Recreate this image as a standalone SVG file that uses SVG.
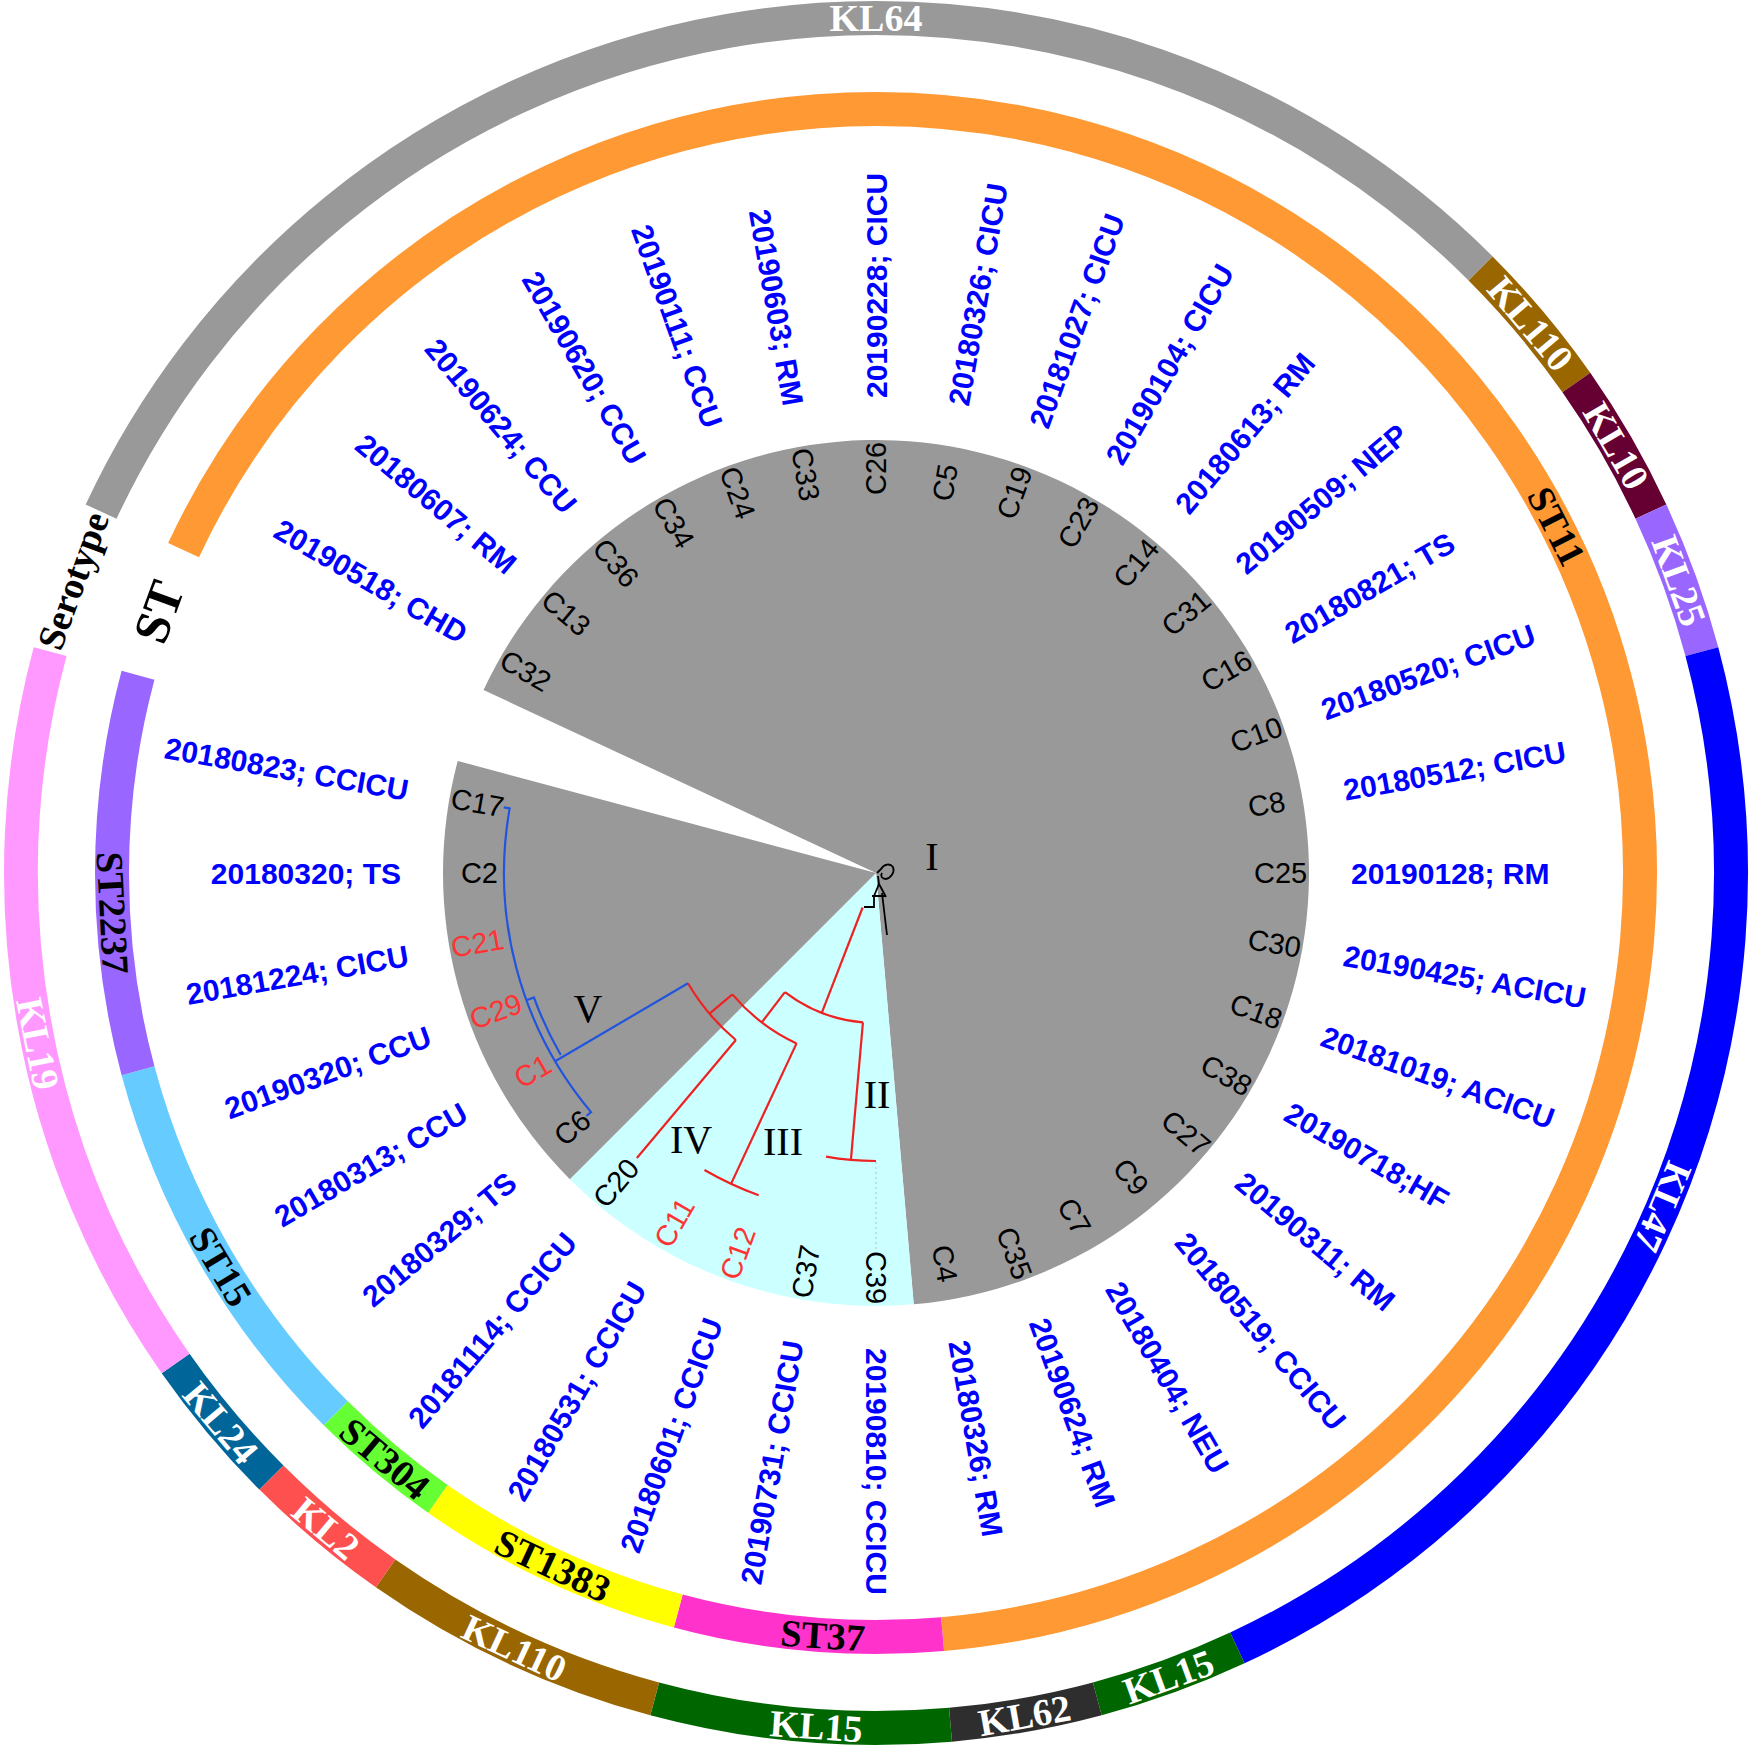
<svg xmlns="http://www.w3.org/2000/svg" width="1750" height="1748" viewBox="0 0 1750 1748">
<style>
.leaf{font-family:"Liberation Sans",Arial,sans-serif;font-size:29px;fill:#000}
.leaf.red{fill:#ff3333}
.date{font-family:"Liberation Sans",Arial,sans-serif;font-size:30px;font-weight:bold;fill:#0000ff}
.ring{fill:none;stroke-width:34}
.rl{font-family:"Liberation Serif","Times New Roman",serif;font-size:38px;font-weight:bold;text-anchor:middle}
.w{fill:#fff}
.k{fill:#000}
.clade{font-family:"Liberation Serif","Times New Roman",serif;font-size:40px;fill:#000;text-anchor:middle}
.br{fill:none;stroke-width:2.2}
.red-br{stroke:#ee2222}
.blue-br{stroke:#2255dd}
.blk-br{stroke:#000;stroke-width:1.8}
.end{text-anchor:end}
</style>
<rect width="1750" height="1748" fill="#fff"/>

<g id="sectors">
  <path id="sector-I" d="M876,873 L483.57,690 A433,433 0 1 1 913.74,1304.35 Z" fill="#999999"/>
  <path id="sector-II-IV" d="M876,873 L913.74,1304.35 A433,433 0 0 1 569.82,1179.18 Z" fill="#ccffff"/>
  <path id="sector-V" d="M876,873 L569.82,1179.18 A433,433 0 0 1 457.75,760.93 Z" fill="#999999"/>
</g>

<g id="serotype-ring">
  <g id="sero-KL64"><path class="ring" stroke="#999999" d="M101.10,511.66 A855,855 0 0 1 1480.58,268.42"/><text class="rl w" x="876" y="18" dy=".35em">KL64</text></g>
  <g id="sero-KL110a"><path class="ring" stroke="#996600" d="M1480.58,268.42 A855,855 0 0 1 1576.37,382.59"/><text class="rl w" transform="rotate(50 1530.96 323.41)" x="1530.96" y="323.41" dy=".35em">KL110</text></g>
  <g id="sero-KL10"><path class="ring" stroke="#660033" d="M1576.37,382.59 A855,855 0 0 1 1650.90,511.66"/><text class="rl w" transform="rotate(60 1616.46 445.5)" x="1616.46" y="445.5" dy=".35em">KL10</text></g>
  <g id="sero-KL25"><path class="ring" stroke="#9966ff" d="M1650.90,511.66 A855,855 0 0 1 1701.87,651.71"/><text class="rl w" transform="rotate(70 1679.43 580.57)" x="1679.43" y="580.57" dy=".35em">KL25</text></g>
  <g id="sero-KL47"><path class="ring" stroke="#0000ff" d="M1701.87,651.71 A855,855 0 0 1 1237.34,1647.90"/><text class="rl w" transform="rotate(113 1663.03 1207.07)" x="1663.03" y="1207.07" dy=".35em">KL47</text></g>
  <g id="sero-KL15a"><path class="ring" stroke="#006600" d="M1237.34,1647.90 A855,855 0 0 1 1097.29,1698.87"/><text class="rl w" transform="rotate(-20 1168.43 1676.43)" x="1168.43" y="1676.43" dy=".35em">KL15</text></g>
  <g id="sero-KL62"><path class="ring" stroke="#2e2e2e" d="M1097.29,1698.87 A855,855 0 0 1 950.52,1724.74"/><text class="rl w" transform="rotate(-10 1024.47 1715.01)" x="1024.47" y="1715.01" dy=".35em">KL62</text></g>
  <g id="sero-KL15b"><path class="ring" stroke="#006600" d="M950.52,1724.74 A855,855 0 0 1 654.71,1698.87"/><text class="rl w" transform="rotate(4 816.4 1725.9)" x="816.4" y="1725.9" dy=".35em">KL15</text></g>
  <g id="sero-KL110b"><path class="ring" stroke="#996600" d="M654.71,1698.87 A855,855 0 0 1 385.59,1573.37"/><text class="rl w" transform="rotate(25 514.66 1647.90)" x="514.66" y="1647.90" dy=".35em">KL110</text></g>
  <g id="sero-KL2"><path class="ring" stroke="#ff5050" d="M385.59,1573.37 A855,855 0 0 1 271.42,1477.58"/><text class="rl w" transform="rotate(40 326.41 1527.96)" x="326.41" y="1527.96" dy=".35em">KL2</text></g>
  <g id="sero-KL24"><path class="ring" stroke="#006699" d="M271.42,1477.58 A855,855 0 0 1 175.63,1363.41"/><text class="rl w" transform="rotate(50 221.04 1422.59)" x="221.04" y="1422.59" dy=".35em">KL24</text></g>
  <g id="sero-KL19"><path class="ring" stroke="#ff99ff" d="M175.63,1363.41 A855,855 0 0 1 50.13,651.71"/><text class="rl w" transform="rotate(78.5 38.2 1043.5)" x="38.2" y="1043.5" dy=".35em">KL19</text></g>
  <g id="sero-title"><text class="rl k" transform="rotate(-70 72.57 580.57)" x="72.57" y="580.57" dy=".35em">Serotype</text></g>
</g>

<g id="st-ring">
  <g id="st-ST11"><path class="ring" stroke="#ff9933" d="M183.58,550.12 A764,764 0 1 1 942.59,1634.09"/><text class="rl k" transform="rotate(63 1556.73 526.15)" x="1556.73" y="526.15" dy=".35em">ST11</text></g>
  <g id="st-ST37"><path class="ring" stroke="#ff33cc" d="M942.59,1634.09 A764,764 0 0 1 678.26,1610.97"/><text class="rl k" transform="rotate(4 822.70 1635.14)" x="822.70" y="1635.14" dy=".35em">ST37</text></g>
  <g id="st-ST1383"><path class="ring" stroke="#ffff00" d="M678.26,1610.97 A764,764 0 0 1 437.79,1498.83"/><text class="rl k" transform="rotate(25 553.12 1565.42)" x="553.12" y="1565.42" dy=".35em">ST1383</text></g>
  <g id="st-ST304"><path class="ring" stroke="#66ff33" d="M437.79,1498.83 A764,764 0 0 1 335.77,1413.23"/><text class="rl k" transform="rotate(40 384.91 1458.25)" x="384.91" y="1458.25" dy=".35em">ST304</text></g>
  <g id="st-ST15"><path class="ring" stroke="#66ccff" d="M335.77,1413.23 A764,764 0 0 1 138.03,1070.74"/><text class="rl k" transform="rotate(59 221.12 1266.49)" x="221.12" y="1266.49" dy=".35em">ST15</text></g>
  <g id="st-ST2237"><path class="ring" stroke="#9966ff" d="M138.03,1070.74 A764,764 0 0 1 138.03,675.26"/><text class="rl k" transform="rotate(87 113.05 912.99)" x="113.05" y="912.99" dy=".35em">ST2237</text></g>
  <g id="st-title"><text class="rl k" style="font-size:50px" transform="rotate(-70 158.08 611.70)" x="158.08" y="611.70" dy=".35em">ST</text></g>
</g>

<g id="connectors">
  <path class="br blk-br" d="M877,873 L882,868 M881,869 c3,-5 9,-6 12,-2 c2,5 -2,11 -7,12 c-4,0 -6,-3 -4,-6 M878,876 L879,884 L874,896 M879,884 L886,897 M872,896 L886,896 M864,907 L874,907 L874,896 M882,893 L887,935"/>
  <path class="br red-br" d="M862.62,907.50 L821.76,1012.85"/>
  <path class="br red-br" d="M862.93,1022.43 A150,150 0 0 1 784.89,992.16"/>
  <path class="br red-br" d="M862.93,1022.43 L850.90,1159.90"/>
  <path class="br red-br" d="M876,1161 A288,288 0 0 1 825.99,1156.63"/>
  <path class="br red-br" d="M784.89,992.16 L761.81,1022.35"/>
  <path class="br red-br" d="M796.55,1043.39 A188,188 0 0 1 732.41,994.35"/>
  <path class="br red-br" d="M796.55,1043.39 L731.04,1183.86"/>
  <path class="br red-br" d="M758.69,1195.31 A343,343 0 0 1 704.5,1170.05"/>
  <path class="br red-br" d="M732.41,994.35 L709.49,1013.71"/>
  <path class="br red-br" d="M735.87,1040.0 A218,218 0 0 1 687.97,983.31"/>
  <path class="br red-br" d="M735.87,1040.0 L636.88,1157.97"/>
  <path class="br blue-br" d="M687.97,983.31 L555.15,1061.24"/>
  <path class="br blue-br" d="M586.44,1115.97 L591.03,1112.12 A372,372 0 0 1 509.65,808.40 L503.74,807.36"/>
  <path class="br blue-br" d="M526.43,1000.23 L533.95,997.50 A364,364 0 0 0 560.77,1055"/>
  <path fill="none" stroke="#9cc" stroke-width="1" stroke-dasharray="2 3" d="M876,1162 L876,1250"/>
</g>

<g id="clade-labels">
  <text class="clade" x="932" y="870">I</text>
  <text class="clade" x="877" y="1108">II</text>
  <text class="clade" x="783" y="1155">III</text>
  <text class="clade" x="691" y="1153">IV</text>
  <text class="clade" x="588" y="1022">V</text>
</g>

<g id="leaves">
  <g id="leaf-C25"><text class="leaf" transform="rotate(0 876 873)" x="1254" y="873" dy=".35em">C25</text><text class="date" transform="rotate(0 876 873)" x="1351" y="873" dy=".35em">20190128; RM</text></g>
  <g id="leaf-C30"><text class="leaf" transform="rotate(10 876 873)" x="1254" y="873" dy=".35em">C30</text><text class="date" transform="rotate(10 876 873)" x="1351" y="873" dy=".35em">20190425; ACICU</text></g>
  <g id="leaf-C18"><text class="leaf" transform="rotate(20 876 873)" x="1254" y="873" dy=".35em">C18</text><text class="date" transform="rotate(20 876 873)" x="1351" y="873" dy=".35em">20181019; ACICU</text></g>
  <g id="leaf-C38"><text class="leaf" transform="rotate(30 876 873)" x="1254" y="873" dy=".35em">C38</text><text class="date" transform="rotate(30 876 873)" x="1351" y="873" dy=".35em">20190718;HF</text></g>
  <g id="leaf-C27"><text class="leaf" transform="rotate(40 876 873)" x="1254" y="873" dy=".35em">C27</text><text class="date" transform="rotate(40 876 873)" x="1351" y="873" dy=".35em">20190311; RM</text></g>
  <g id="leaf-C9"><text class="leaf" transform="rotate(50 876 873)" x="1254" y="873" dy=".35em">C9</text><text class="date" transform="rotate(50 876 873)" x="1351" y="873" dy=".35em">20180519; CCICU</text></g>
  <g id="leaf-C7"><text class="leaf" transform="rotate(60 876 873)" x="1254" y="873" dy=".35em">C7</text><text class="date" transform="rotate(60 876 873)" x="1351" y="873" dy=".35em">20180404; NEU</text></g>
  <g id="leaf-C35"><text class="leaf" transform="rotate(70 876 873)" x="1254" y="873" dy=".35em">C35</text><text class="date" transform="rotate(70 876 873)" x="1351" y="873" dy=".35em">20190624; RM</text></g>
  <g id="leaf-C4"><text class="leaf" transform="rotate(80 876 873)" x="1254" y="873" dy=".35em">C4</text><text class="date" transform="rotate(80 876 873)" x="1351" y="873" dy=".35em">20180326; RM</text></g>
  <g id="leaf-C39"><text class="leaf" transform="rotate(90 876 873)" x="1254" y="873" dy=".35em">C39</text><text class="date" transform="rotate(90 876 873)" x="1351" y="873" dy=".35em">20190810; CCICU</text></g>
  <g id="leaf-C37"><text class="leaf end" transform="rotate(-80 876 873)" x="498" y="873" dy=".35em">C37</text><text class="date end" transform="rotate(-80 876 873)" x="401" y="873" dy=".35em">20190731; CCICU</text></g>
  <g id="leaf-C12"><text class="leaf red end" transform="rotate(-70 876 873)" x="498" y="873" dy=".35em">C12</text><text class="date end" transform="rotate(-70 876 873)" x="401" y="873" dy=".35em">20180601; CCICU</text></g>
  <g id="leaf-C11"><text class="leaf red end" transform="rotate(-60 876 873)" x="498" y="873" dy=".35em">C11</text><text class="date end" transform="rotate(-60 876 873)" x="401" y="873" dy=".35em">20180531; CCICU</text></g>
  <g id="leaf-C20"><text class="leaf end" transform="rotate(-50 876 873)" x="498" y="873" dy=".35em">C20</text><text class="date end" transform="rotate(-50 876 873)" x="401" y="873" dy=".35em">20181114; CCICU</text></g>
  <g id="leaf-C6"><text class="leaf end" transform="rotate(-40 876 873)" x="498" y="873" dy=".35em">C6</text><text class="date end" transform="rotate(-40 876 873)" x="401" y="873" dy=".35em">20180329; TS</text></g>
  <g id="leaf-C1"><text class="leaf red end" transform="rotate(-30 876 873)" x="498" y="873" dy=".35em">C1</text><text class="date end" transform="rotate(-30 876 873)" x="401" y="873" dy=".35em">20180313; CCU</text></g>
  <g id="leaf-C29"><text class="leaf red end" transform="rotate(-20 876 873)" x="498" y="873" dy=".35em">C29</text><text class="date end" transform="rotate(-20 876 873)" x="401" y="873" dy=".35em">20190320; CCU</text></g>
  <g id="leaf-C21"><text class="leaf red end" transform="rotate(-10 876 873)" x="498" y="873" dy=".35em">C21</text><text class="date end" transform="rotate(-10 876 873)" x="401" y="873" dy=".35em">20181224; CICU</text></g>
  <g id="leaf-C2"><text class="leaf end" transform="rotate(0 876 873)" x="498" y="873" dy=".35em">C2</text><text class="date end" transform="rotate(0 876 873)" x="401" y="873" dy=".35em">20180320; TS</text></g>
  <g id="leaf-C17"><text class="leaf end" transform="rotate(10 876 873)" x="498" y="873" dy=".35em">C17</text><text class="date end" transform="rotate(10 876 873)" x="401" y="873" dy=".35em">20180823; CCICU</text></g>
  <g id="leaf-C32"><text class="leaf end" transform="rotate(30 876 873)" x="498" y="873" dy=".35em">C32</text><text class="date end" transform="rotate(30 876 873)" x="401" y="873" dy=".35em">20190518; CHD</text></g>
  <g id="leaf-C13"><text class="leaf end" transform="rotate(40 876 873)" x="498" y="873" dy=".35em">C13</text><text class="date end" transform="rotate(40 876 873)" x="401" y="873" dy=".35em">20180607; RM</text></g>
  <g id="leaf-C36"><text class="leaf end" transform="rotate(50 876 873)" x="498" y="873" dy=".35em">C36</text><text class="date end" transform="rotate(50 876 873)" x="401" y="873" dy=".35em">20190624; CCU</text></g>
  <g id="leaf-C34"><text class="leaf end" transform="rotate(60 876 873)" x="498" y="873" dy=".35em">C34</text><text class="date end" transform="rotate(60 876 873)" x="401" y="873" dy=".35em">20190620; CCU</text></g>
  <g id="leaf-C24"><text class="leaf end" transform="rotate(70 876 873)" x="498" y="873" dy=".35em">C24</text><text class="date end" transform="rotate(70 876 873)" x="401" y="873" dy=".35em">20190111; CCU</text></g>
  <g id="leaf-C33"><text class="leaf end" transform="rotate(80 876 873)" x="498" y="873" dy=".35em">C33</text><text class="date end" transform="rotate(80 876 873)" x="401" y="873" dy=".35em">20190603; RM</text></g>
  <g id="leaf-C26"><text class="leaf" transform="rotate(-90 876 873)" x="1254" y="873" dy=".35em">C26</text><text class="date" transform="rotate(-90 876 873)" x="1351" y="873" dy=".35em">20190228; CICU</text></g>
  <g id="leaf-C5"><text class="leaf" transform="rotate(-80 876 873)" x="1254" y="873" dy=".35em">C5</text><text class="date" transform="rotate(-80 876 873)" x="1351" y="873" dy=".35em">20180326; CICU</text></g>
  <g id="leaf-C19"><text class="leaf" transform="rotate(-70 876 873)" x="1254" y="873" dy=".35em">C19</text><text class="date" transform="rotate(-70 876 873)" x="1351" y="873" dy=".35em">20181027; CICU</text></g>
  <g id="leaf-C23"><text class="leaf" transform="rotate(-60 876 873)" x="1254" y="873" dy=".35em">C23</text><text class="date" transform="rotate(-60 876 873)" x="1351" y="873" dy=".35em">20190104; CICU</text></g>
  <g id="leaf-C14"><text class="leaf" transform="rotate(-50 876 873)" x="1254" y="873" dy=".35em">C14</text><text class="date" transform="rotate(-50 876 873)" x="1351" y="873" dy=".35em">20180613; RM</text></g>
  <g id="leaf-C31"><text class="leaf" transform="rotate(-40 876 873)" x="1254" y="873" dy=".35em">C31</text><text class="date" transform="rotate(-40 876 873)" x="1351" y="873" dy=".35em">20190509; NEP</text></g>
  <g id="leaf-C16"><text class="leaf" transform="rotate(-30 876 873)" x="1254" y="873" dy=".35em">C16</text><text class="date" transform="rotate(-30 876 873)" x="1351" y="873" dy=".35em">20180821; TS</text></g>
  <g id="leaf-C10"><text class="leaf" transform="rotate(-20 876 873)" x="1254" y="873" dy=".35em">C10</text><text class="date" transform="rotate(-20 876 873)" x="1351" y="873" dy=".35em">20180520; CICU</text></g>
  <g id="leaf-C8"><text class="leaf" transform="rotate(-10 876 873)" x="1254" y="873" dy=".35em">C8</text><text class="date" transform="rotate(-10 876 873)" x="1351" y="873" dy=".35em">20180512; CICU</text></g>
</g>
</svg>
